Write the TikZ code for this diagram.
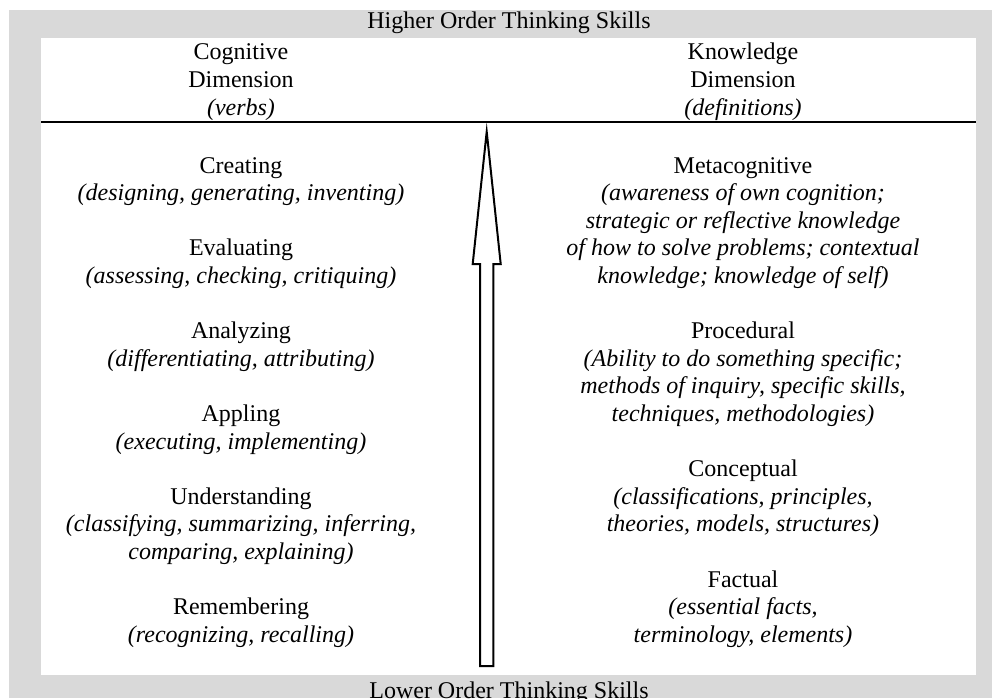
\documentclass[tikz,border=0pt]{standalone}
\usepackage{fontspec}
\setmainfont{Liberation Serif}
\definecolor{band}{HTML}{D9D9D9}

\begin{document}
\begin{tikzpicture}[x=1pt,y=-1pt,txt/.style={align=center,anchor=base,inner sep=0pt,font=\fontsize{24}{27.6}\selectfont},rule/.style={line width=2pt,draw=black}]
\useasboundingbox (0,0) rectangle (992,698);
\fill[band] (9,10) rectangle (992,698);
\fill[white] (41,38) rectangle (976,675);
\node[txt] (high) at (509,29) {Higher Order Thinking Skills};
\node[txt] (low) at (509,698) {Lower Order Thinking Skills};
% headers (placed by their last line)
\node[txt] (cog) at (241,115.2) {Cognitive\\Dimension\\\textit{(verbs)}};
\node[txt] (know) at (743,115.2) {Knowledge\\Dimension\\\textit{(definitions)}};
\draw[rule] (41,122) -- (976,122);
% cognitive levels
\node[txt] (create) at (241,200.6) {Creating\\\textit{(designing, generating, inventing)}};
\node[txt] (eval) at (241,283.4) {Evaluating\\\textit{(assessing, checking, critiquing)}};
\node[txt] (anal) at (241,366.2) {Analyzing\\\textit{(differentiating, attributing)}};
\node[txt] (apply) at (241,449) {Appling\\\textit{(executing, implementing)}};
\node[txt] (under) at (241,559.4) {Understanding\\\textit{(classifying, summarizing, inferring,}\\\textit{comparing, explaining)}};
\node[txt] (remem) at (241,642.2) {Remembering\\\textit{(recognizing, recalling)}};
% knowledge types
\node[txt] (meta) at (743,283.4) {Metacognitive\\\textit{(awareness of own cognition;}\\\textit{strategic or reflective knowledge}\\\textit{of how to solve problems; contextual}\\\textit{knowledge; knowledge of self)}};
\node[txt] (proc) at (743,421.4) {Procedural\\\textit{(Ability to do something specific;}\\\textit{methods of inquiry, specific skills,}\\\textit{techniques, methodologies)}};
\node[txt] (conc) at (743,531.8) {Conceptual\\\textit{(classifications, principles,}\\\textit{theories, models, structures)}};
\node[txt] (fact) at (743,642.2) {Factual\\\textit{(essential facts,}\\\textit{terminology, elements)}};
% hollow arrow
\draw[rule,line join=miter,fill=white] (480,666) -- (480,264) -- (472.7,264) -- (486.7,131.7) -- (500.7,264) -- (493.4,264) -- (493.4,666) -- cycle;
\end{tikzpicture}
\end{document}
